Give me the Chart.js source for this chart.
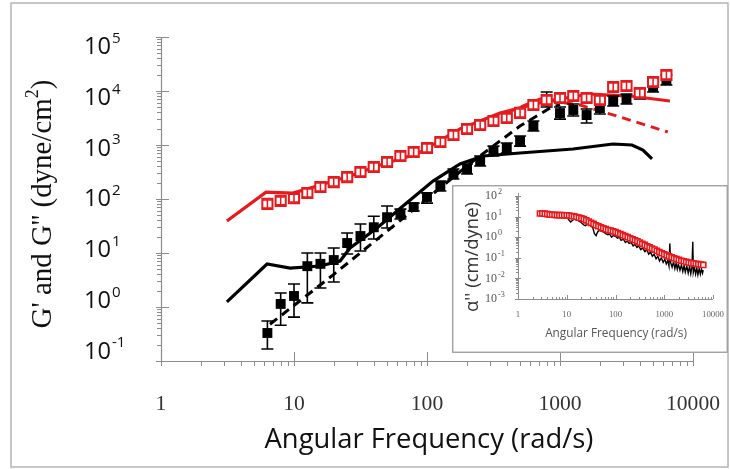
<!DOCTYPE html>
<html><head><meta charset="utf-8">
<script src="https://cdn.jsdelivr.net/npm/chart.js@4"></script>
<style>
html,body{margin:0;padding:0;background:#fff}
#wrap{position:relative;width:730px;height:469px;overflow:hidden}
#main{position:absolute;left:0;top:0}
#inset{position:absolute;left:452px;top:185px}
</style></head><body>
<div id="wrap"><canvas id="main" width="730" height="469"></canvas><canvas id="inset" width="276" height="168"></canvas></div>
<script>
// ---------- main chart data ----------
const xTickValues = [1, 10, 100, 1000, 10000];
const xTickLabels = ['1', '10', '100', '1000', '10000'];
const yTickExps = [-1, 0, 1, 2, 3, 4, 5];

const freqG = [6.31,7.94,10,12.6,15.8,19.9,25.1,31.6,39.8,50.1,63.1,79.4,100,126,158,200,251,316,398,501,631,794,1000,1259,1585,1995,2512,3162,3981,5012,6310];
// G' (red open squares) with error limits
const gPrime   = [81,92,104,129,167,206,255,316,391,484,626,742,880,1136,1530,1980,2345,2780,3160,3920,5500,6810,7420,8070,7420,6810,11860,12380,9180,14680,19800];
const gPrimeHi = [96,109,123,153,198,244,302,375,463,574,742,880,1043,1347,1815,2350,2780,3300,3750,4650,6520,8080,8800,9570,8800,8080,14060,14680,10890,17400,23500];
const gPrimeLo = [68,78,88,109,141,174,215,267,330,408,528,626,742,958,1290,1670,1978,2345,2665,3305,4640,5745,6260,6800,6260,5745,10000,10440,7740,12380,16700];
// G'' (black filled squares) with error limits
const gDouble   = [0.33,1.14,1.6,5.7,6.3,7.4,15.3,20.6,30,46,53,71,109,174,290,360,505,774,880,1190,2250,6800,3900,4450,3590,4840,6530,7110,8800,11900,15900];
const gDoubleHi = [0.55,1.82,2.67,10,10,12.4,23.4,34.4,48,74,65,84,129,215,360,445,626,955,1090,1470,2780,9560,5060,5750,4640,6250,8070,8800,10900,14700,19800];
const gDoubleLo = [0.167,0.46,0.65,1.19,2.25,2.9,9.6,10.9,18.2,29,42.6,60,84,141,234,290,408,626,711,955,1820,5060,3020,3440,2550,3750,5270,5750,7110,9560,12900];

// model curves
const redLineX = [3.13,6.16,9.8,14.9,26.4,46.7,84,177,354,798,1682,3360,6710];
const redLineY = [39.1,134,129,174,267,445,681,1980,3920,6530,8800,8070,6530];
const redDashX = [400,708,1413,2825,6470];
const redDashY = [4000,7100,5500,3300,1740];
const blackLineX = [3.13,6.27,9.33,15.7,22.2,26.4,42.1,66,111,177,264,500,1253,2500,3475,4205,4920];
const blackLineY = [1.24,6.26,5.27,5.75,7.1,12.4,29,74,215,445,626,711,843,1044,1000,808,551];
const blackDashX = [6.6,19.6,66,222,500,841,1000];
const blackDashY = [0.48,3.9,44,505,2240,4840,5600];

// ---------- inset data ----------
const insetXTickValues = [1, 10, 100, 1000, 10000];
const insetXTickLabels = ['1', '10', '100', '1000', '10000'];
const insetYTickExps = [-3, -2, -1, 0, 1, 2];
const alphaFreq = [2.82,3.16,3.55,3.98,4.47,5.01,5.62,6.31,7.08,7.94,8.91,10,11.2,12.6,14.1,15.8,17.8,20,22.4,25.1,28.2,31.6,35.5,39.8,44.7,50.1,56.2,63.1,70.8,79.4,89.1,100,112,126,141,158,178,200,224,251,282,316,355,398,447,501,562,631,708,794,891,1000,1122,1259,1413,1585,1778,1995,2239,2512,2818,3162,3548,3981,4467,5012,5623,6310];
const alphaRed = [14.1,14.1,13.8,13.2,12.6,12.3,12.0,11.7,11.7,11.7,11.5,11.5,11.2,10.7,10.2,9.55,8.9,8.3,7.6,6.6,5.75,5.0,4.4,3.8,3.4,3.0,2.7,2.45,2.24,2.1,1.9,1.78,1.58,1.41,1.26,1.12,1.0,0.89,0.79,0.71,0.63,0.55,0.48,0.42,0.36,0.32,0.28,0.25,0.22,0.19,0.166,0.148,0.132,0.117,0.105,0.095,0.087,0.079,0.072,0.068,0.063,0.059,0.056,0.054,0.051,0.049,0.047,0.045];
const alphaBlackX = [2.8,3.2,4,5,6.3,8,10,11,12,13,14,16,18,20,22,24,26,28,31,34,37,40,43,47,52,57,63,70,76,83,90,100,110,120,130,145,160,175,190,210,230,250,275,300,330,360,400,440,480,520,570,620,680,740,800,870,950,1030,1100,1180,1250,1300,1350,1450,1550,1650,1750,1850,1950,2100,2250,2400,2550,2700,2900,3100,3300,3500,3700,3850,3950,4150,4400,4650,4900,5200,5500,5800,6100,6300];
const alphaBlackY = [13,13,12,11.5,11,10.5,10,7,5.5,6.5,7.5,7,6,5,4,3.6,4.2,4,3.5,3,1.5,1.2,1.8,2.2,1.9,1.8,1.5,1.3,1.4,1.0,1.2,1.1,0.9,1.0,0.7,0.8,0.55,0.65,0.5,0.55,0.38,0.45,0.32,0.38,0.25,0.3,0.2,0.24,0.15,0.19,0.12,0.15,0.09,0.12,0.07,0.1,0.06,0.085,0.05,0.075,0.04,0.5,0.06,0.035,0.065,0.03,0.055,0.028,0.05,0.025,0.045,0.022,0.042,0.02,0.04,0.018,0.038,0.017,0.035,0.6,0.02,0.035,0.016,0.032,0.015,0.03,0.016,0.028,0.018,0.025];

const RED = '#e8191c';
const SERIF = '"Liberation Serif", "Times New Roman", serif';
const SANS = '"Open Sans", "Noto Sans", sans-serif';
const pts = (xs, ys) => xs.map((v, i) => ({x: v, y: ys[i]}));

// font size that makes `text` about `target` px wide
function fitSize(ctx, text, family, target) {
  ctx.font = '100px ' + family;
  return 100 * target / ctx.measureText(text).width;
}

const errorBars = {
  id: 'errorBars',
  afterDatasetDraw(chart, args) {
    const ds = chart.data.datasets[args.index];
    if (!ds.errHi) return;
    const {ctx, scales: {x, y}} = chart;
    ctx.save();
    ctx.strokeStyle = ds.errColor; ctx.lineWidth = ds.errWidth;
    ds.data.forEach((p, i) => {
      const px = x.getPixelForValue(p.x);
      const yh = y.getPixelForValue(ds.errHi[i]);
      const yl = y.getPixelForValue(ds.errLo[i]);
      const c = ds.capHalf;
      ctx.beginPath();
      ctx.moveTo(px, yh); ctx.lineTo(px, yl);
      ctx.moveTo(px - c, yh); ctx.lineTo(px + c, yh);
      ctx.moveTo(px - c, yl); ctx.lineTo(px + c, yl);
      ctx.stroke();
    });
    ctx.restore();
  }
};

function drawPow(ctx, x, y, base, exp, f1, f2, rise) {
  ctx.font = f1;
  const w1 = ctx.measureText(base).width;
  ctx.textAlign = 'left';
  ctx.fillText(base, x, y);
  ctx.font = f2; ctx.fillText(exp, x + w1 + 1, y - rise);
}

const mainAxes = {
  id: 'mainAxes',
  beforeDatasetsDraw(chart) {
    const {ctx, chartArea: a, scales: {x, y}} = chart;
    ctx.save();
    ctx.strokeStyle = '#b4b4b4'; ctx.lineWidth = 1.5;
    ctx.strokeRect(11, 3, 717, 464);
    ctx.strokeStyle = '#8c8c8c'; ctx.lineWidth = 1.2;
    ctx.beginPath();
    ctx.moveTo(a.left + 0.5, a.top); ctx.lineTo(a.left + 0.5, a.bottom + 0.5); ctx.lineTo(a.right, a.bottom + 0.5);
    ctx.stroke();
    ctx.lineWidth = 1;
    for (let e = -1; e <= 5; e++) {
      for (let m = 1; m <= 9; m++) {
        const v = m * Math.pow(10, e);
        if (v > 100001) break;
        const py = Math.round(y.getPixelForValue(v)) + 0.5;
        ctx.beginPath();
        if (m === 1) { ctx.moveTo(a.left - 5, py); ctx.lineTo(a.left + 8, py); }
        else { ctx.moveTo(a.left - 4, py); ctx.lineTo(a.left, py); }
        ctx.stroke();
      }
    }
    for (let e = 0; e <= 4; e++) {
      for (let m = 1; m <= 9; m++) {
        const v = m * Math.pow(10, e);
        if (v > 10001) break;
        const px = Math.round(x.getPixelForValue(v)) + 0.5;
        ctx.beginPath();
        if (m === 1) { ctx.moveTo(px, a.bottom - 9); ctx.lineTo(px, a.bottom + 5); }
        else { ctx.moveTo(px, a.bottom); ctx.lineTo(px, a.bottom + 5); }
        ctx.stroke();
      }
    }
    ctx.restore();
  },
  afterDraw(chart) {
    const {ctx, scales: {x, y}} = chart;
    ctx.save();
    ctx.textBaseline = 'middle';
    ctx.fillStyle = '#333';
    const xs = Math.min(22, fitSize(ctx, '10000', SERIF, 54));
    ctx.font = xs + 'px ' + SERIF; ctx.textAlign = 'center';
    xTickValues.forEach((v, i) => ctx.fillText(xTickLabels[i], x.getPixelForValue(v), 404));
    ctx.fillStyle = '#111';
    const ys = fitSize(ctx, '10', SANS, 27);
    const mid = y.getPixelForValue(100);
    yTickExps.forEach(e => {
      const ty = y.getPixelForValue(Math.pow(10, e));
      const ly = mid + 0.75 + (ty - mid) * 0.94;
      drawPow(ctx, 84, ly, '10', String(e), ys + 'px ' + SANS, (ys * 0.64) + 'px ' + SANS, 9);
    });
    ctx.textAlign = 'center';
    const ts = fitSize(ctx, 'Angular Frequency (rad/s)', SANS, 329);
    ctx.font = ts + 'px ' + SANS;
    ctx.fillText('Angular Frequency (rad/s)', 429, 440);
    // rotated y title
    ctx.translate(42, 204); ctx.rotate(-Math.PI / 2);
    ctx.textBaseline = 'alphabetic';
    const t1 = "G' and G'' (dyne/cm", t2 = '2', t3 = ')';
    const s1 = fitSize(ctx, t1 + ')', SERIF, 240);
    const f1 = s1 + 'px ' + SERIF, f2 = (s1 * 0.62) + 'px ' + SERIF;
    ctx.font = f1; const w1 = ctx.measureText(t1).width, w3 = ctx.measureText(t3).width;
    ctx.font = f2; const w2 = ctx.measureText(t2).width;
    const sx = -(w1 + w2 + w3) / 2;
    ctx.textAlign = 'left';
    ctx.font = f1; ctx.fillText(t1, sx, 9); ctx.fillText(t3, sx + w1 + w2, 9);
    ctx.font = f2; ctx.fillText(t2, sx + w1, -4);
    ctx.restore();
  }
};

new Chart(document.getElementById('main'), {
  type: 'scatter',
  data: {
    datasets: [
      {label: "G'", data: pts(freqG, gPrime), order: 0, pointStyle: 'rect', pointRadius: 7.2,
       pointBorderWidth: 2, borderColor: RED, backgroundColor: '#fff',
       errHi: gPrimeHi, errLo: gPrimeLo, errColor: RED, errWidth: 1.5, capHalf: 5},
      {label: "G''", data: pts(freqG, gDouble), order: 1, pointStyle: 'rect', pointRadius: 7,
       pointBorderWidth: 0, borderColor: '#000', backgroundColor: '#000',
       errHi: gDoubleHi, errLo: gDoubleLo, errColor: '#000', errWidth: 1.6, capHalf: 6},
      {label: "fit G'", data: pts(redLineX, redLineY), order: 2, showLine: true, pointRadius: 0,
       borderColor: RED, borderWidth: 3.2, tension: 0},
      {label: "fit G' dashed", data: pts(redDashX, redDashY), order: 3, showLine: true, pointRadius: 0,
       borderColor: RED, borderWidth: 3, borderDash: [9, 6], tension: 0},
      {label: "fit G'' dashed", data: pts(blackDashX, blackDashY), order: 4, showLine: true, pointRadius: 0,
       borderColor: '#000', borderWidth: 3, borderDash: [9, 6], tension: 0},
      {label: "fit G''", data: pts(blackLineX, blackLineY), order: 5, showLine: true, pointRadius: 0,
       borderColor: '#000', borderWidth: 3.2, tension: 0}
    ]
  },
  options: {
    responsive: false, animation: false, devicePixelRatio: 1,
    layout: {padding: {left: 161, top: 37, right: 37, bottom: 108}},
    plugins: {legend: {display: false}, tooltip: {enabled: false}},
    scales: {
      x: {type: 'logarithmic', min: 1, max: 10000, display: false},
      y: {type: 'logarithmic', min: 0.1, max: 100000, display: false}
    }
  },
  plugins: [mainAxes, errorBars]
});

// ---------- inset chart ----------
const insetAxes = {
  id: 'insetAxes',
  beforeDraw(chart) {
    const {ctx, width, height} = chart;
    ctx.save(); ctx.fillStyle = '#fff'; ctx.fillRect(0, 0, width, height); ctx.restore();
  },
  beforeDatasetsDraw(chart) {
    const {ctx, chartArea: a, scales: {x, y}, width, height} = chart;
    ctx.save();
    ctx.strokeStyle = '#9a9a9a'; ctx.lineWidth = 1.3;
    ctx.strokeRect(0.75, 0.75, width - 1.5, height - 1.5);
    ctx.strokeStyle = '#8c8c8c'; ctx.lineWidth = 1;
    ctx.beginPath();
    ctx.moveTo(a.left + 0.5, a.top - 3); ctx.lineTo(a.left + 0.5, a.bottom + 0.5); ctx.lineTo(a.right, a.bottom + 0.5);
    ctx.stroke();
    for (let e = -3; e <= 2; e++) {
      for (let m = 1; m <= 9; m++) {
        const v = m * Math.pow(10, e);
        if (v > 100.1) break;
        const py = Math.round(y.getPixelForValue(v)) + 0.5;
        ctx.beginPath();
        if (m === 1) { ctx.moveTo(a.left - 3, py); ctx.lineTo(a.left + 3, py); }
        else { ctx.moveTo(a.left - 2, py); ctx.lineTo(a.left, py); }
        ctx.stroke();
      }
    }
    for (let e = 0; e <= 4; e++) {
      for (let m = 1; m <= 9; m++) {
        const v = m * Math.pow(10, e);
        if (v > 10001) break;
        const px = Math.round(x.getPixelForValue(v)) + 0.5;
        ctx.beginPath();
        ctx.moveTo(px, a.bottom); ctx.lineTo(px, a.bottom - (m === 1 ? 4 : 2));
        ctx.stroke();
      }
    }
    ctx.restore();
  },
  afterDraw(chart) {
    const {ctx, scales: {x, y}} = chart;
    ctx.save();
    ctx.textBaseline = 'middle';
    ctx.fillStyle = '#666';
    ctx.font = Math.min(9.5, fitSize(ctx, '10000', SERIF, 22)) + 'px ' + SERIF; ctx.textAlign = 'center';
    insetXTickValues.forEach((v, i) => ctx.fillText(insetXTickLabels[i], x.getPixelForValue(v), 130));
    ctx.fillStyle = '#555';
    const ys = fitSize(ctx, '10', SERIF, 12);
    insetYTickExps.forEach(e => {
      drawPow(ctx, 33, y.getPixelForValue(Math.pow(10, e)), '10', String(e), ys + 'px ' + SERIF, (ys * 0.68) + 'px ' + SERIF, 4);
    });
    ctx.fillStyle = '#555'; ctx.textAlign = 'center';
    ctx.font = fitSize(ctx, 'Angular Frequency (rad/s)', SANS, 142) + 'px ' + SANS;
    ctx.fillText('Angular Frequency (rad/s)', 164, 149);
    ctx.fillStyle = '#333';
    ctx.translate(21, 72); ctx.rotate(-Math.PI / 2);
    ctx.font = fitSize(ctx, "\u03B1'' (cm/dyne)", SANS, 110) + 'px ' + SANS;
    ctx.fillText("\u03B1'' (cm/dyne)", 0, 0);
    ctx.restore();
  }
};

new Chart(document.getElementById('inset'), {
  type: 'scatter',
  data: {
    datasets: [
      {label: 'alpha model', data: pts(alphaFreq, alphaRed), order: 0, pointStyle: 'rect', pointRadius: 3.6,
       pointBorderWidth: 1.6, borderColor: RED, backgroundColor: '#fff'},
      {label: 'alpha data', data: pts(alphaBlackX, alphaBlackY), order: 1, showLine: true, pointRadius: 0,
       borderColor: '#000', borderWidth: 1.4}
    ]
  },
  options: {
    responsive: false, animation: false, devicePixelRatio: 1,
    layout: {padding: {left: 66, top: 11, right: 15, bottom: 54}},
    plugins: {legend: {display: false}, tooltip: {enabled: false}},
    scales: {
      x: {type: 'logarithmic', min: 1, max: 10000, display: false},
      y: {type: 'logarithmic', min: 0.001, max: 100, display: false}
    }
  },
  plugins: [insetAxes]
});
</script>
</body></html>
